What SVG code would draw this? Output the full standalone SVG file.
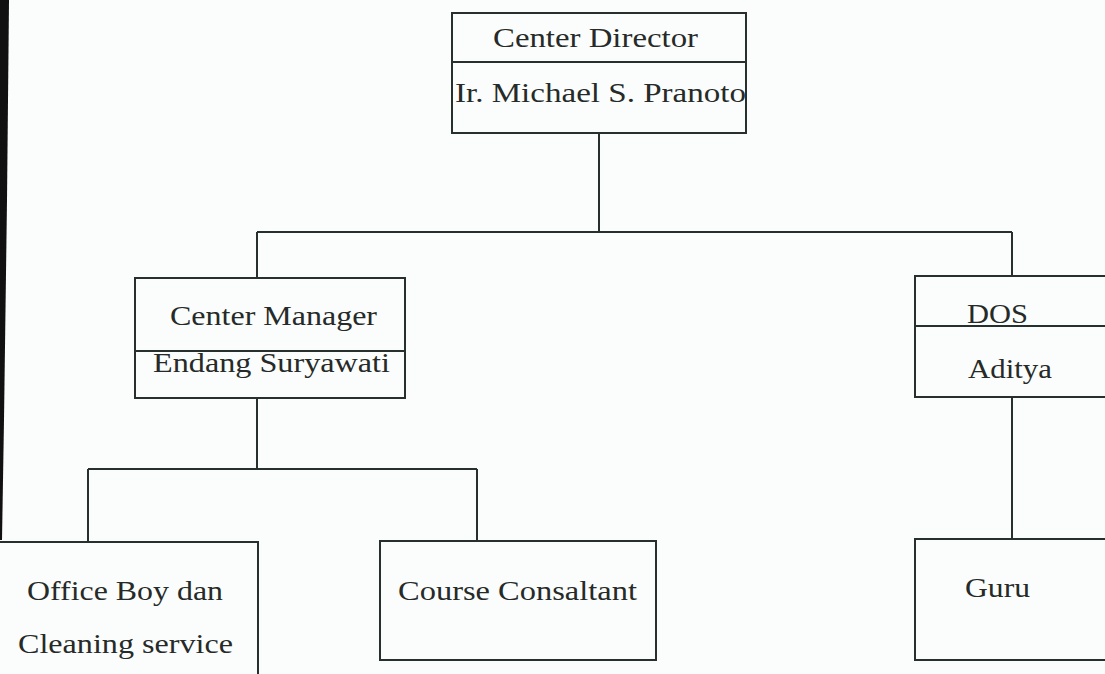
<svg xmlns="http://www.w3.org/2000/svg" width="1105" height="674" viewBox="0 0 1105 674">
<style>
.box{fill:none;stroke:#28302d;stroke-width:2}
.ln{fill:none;stroke:#28302d;stroke-width:2}
.t{font-family:"Liberation Serif","Times New Roman",serif;font-size:27px;fill:#262a28}
</style>
<rect x="0" y="0" width="1105" height="674" fill="#fbfdfc"/>
<polygon points="0,0 9,0 7,200 4,420 2,540 0,540" fill="#111"/>
<g id="connectors">
<path class="ln" d="M599,133 V232 M257,232 H1012 M257,232 V278 M1012,232 V276"/>
<path class="ln" d="M257,398 V469 M88,469 H477 M88,469 V542 M477,469 V541"/>
<path class="ln" d="M1012,397 V539"/>
</g>
<g id="center-director">
<rect class="box" x="452" y="13" width="294" height="120"/>
<line class="ln" x1="452" y1="62" x2="746" y2="62"/>
<text class="t" x="493" y="47" textLength="205" lengthAdjust="spacingAndGlyphs">Center Director</text>
<text class="t" x="455" y="102" textLength="291" lengthAdjust="spacingAndGlyphs">Ir. Michael S. Pranoto</text>
</g>
<g id="center-manager">
<rect class="box" x="135" y="278" width="270" height="120"/>
<line class="ln" x1="135" y1="351" x2="405" y2="351"/>
<text class="t" x="170" y="325" textLength="207" lengthAdjust="spacingAndGlyphs">Center Manager</text>
<text class="t" x="153" y="372" textLength="237" lengthAdjust="spacingAndGlyphs">Endang Suryawati</text>
</g>
<g id="dos">
<path class="box" d="M1106,276 H915 V397 H1106"/>
<line class="ln" x1="915" y1="326" x2="1106" y2="326"/>
<text class="t" x="967" y="323" textLength="61" lengthAdjust="spacingAndGlyphs">DOS</text>
<text class="t" x="968" y="378" textLength="84" lengthAdjust="spacingAndGlyphs">Aditya</text>
</g>
<g id="office-boy">
<path class="box" d="M-2,542 H258 V676"/>
<text class="t" x="27" y="600" textLength="196" lengthAdjust="spacingAndGlyphs">Office Boy dan</text>
<text class="t" x="18" y="653" textLength="215" lengthAdjust="spacingAndGlyphs">Cleaning service</text>
</g>
<g id="course-consultant">
<rect class="box" x="380" y="541" width="276" height="119"/>
<text class="t" x="398" y="600" textLength="239" lengthAdjust="spacingAndGlyphs">Course Consaltant</text>
</g>
<g id="guru">
<path class="box" d="M1106,539 H915 V660 H1106"/>
<text class="t" x="965" y="597" textLength="65" lengthAdjust="spacingAndGlyphs">Guru</text>
</g>
</svg>
